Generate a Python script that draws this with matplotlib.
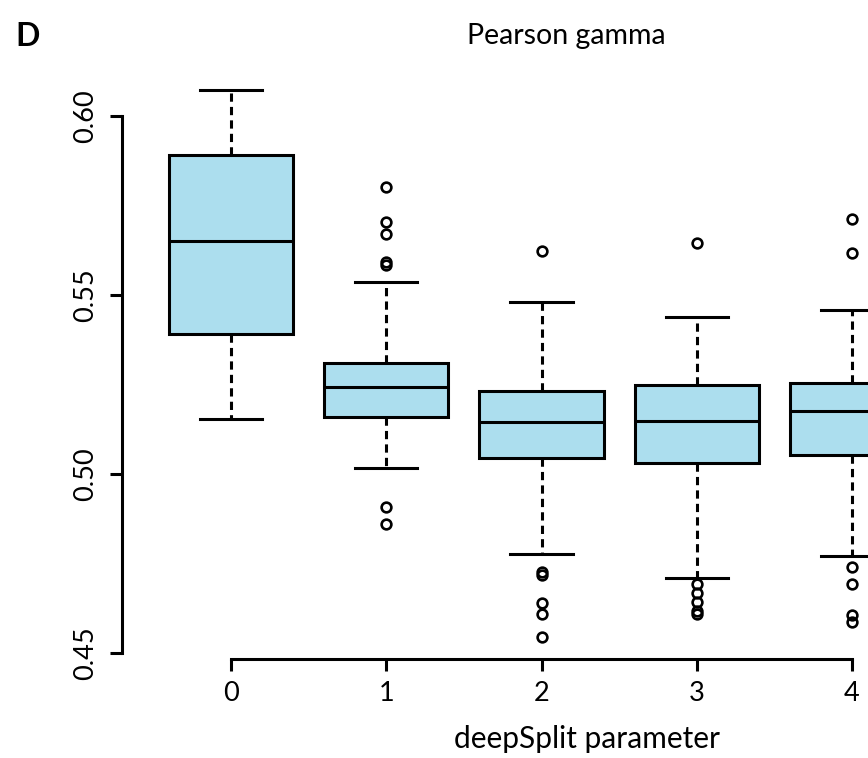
import matplotlib
matplotlib.use("Agg")
import matplotlib.pyplot as plt

# values (Pearson gamma per deepSplit)
deep_split = [0, 1, 2, 3, 4]
q1 = [0.5391, 0.5159, 0.5045, 0.5031, 0.5053]
medians = [0.5651, 0.5243, 0.5145, 0.5148, 0.5176]
q3 = [0.5891, 0.5310, 0.5232, 0.5249, 0.5254]
whisk_lo = [0.5155, 0.5017, 0.4777, 0.4709, 0.4771]
whisk_hi = [0.6073, 0.5536, 0.5480, 0.5439, 0.5458]
outliers = [
    [],
    [0.5802, 0.5704, 0.5670, 0.5592, 0.5584, 0.4908, 0.4860],
    [0.5623, 0.4726, 0.4718, 0.4640, 0.4609, 0.4545],
    [0.5645, 0.4693, 0.4668, 0.4642, 0.4617, 0.4609],
    [0.5712, 0.5617, 0.4740, 0.4693, 0.4606, 0.4587],
]
y_ticks = [0.45, 0.50, 0.55, 0.60]

FONT = "Lato"
BOX_COLOR = "#acdeee"
LW = 2.2

plt.rcParams["font.family"] = [FONT, "DejaVu Sans"]

W, H = 868, 758
fig = plt.figure(figsize=(W / 100, H / 100), dpi=100)

# plot region in pixels: left 122, right edge of figure, top 68, bottom 659
ax = fig.add_axes([122 / W, (H - 659) / H, (W - 122) / W, (659 - 68) / H])

stats = []
for i in range(len(deep_split)):
    stats.append({
        "q1": q1[i], "med": medians[i], "q3": q3[i],
        "whislo": whisk_lo[i], "whishi": whisk_hi[i],
        "fliers": outliers[i],
    })

ax.bxp(stats, positions=deep_split, widths=0.8, capwidths=0.4,
       patch_artist=True, showfliers=True,
       boxprops=dict(facecolor=BOX_COLOR, edgecolor="black", linewidth=LW),
       medianprops=dict(color="black", linewidth=LW),
       whiskerprops=dict(color="black", linewidth=LW, linestyle=(0, (2.7, 1.7))),
       capprops=dict(color="black", linewidth=LW),
       flierprops=dict(marker="o", markerfacecolor="none", markeredgecolor="black",
                       markersize=7, markeredgewidth=1.9))

ax.set_xlim((122 - 231) / 155.25, (W - 231) / 155.25)
ax.set_ylim(0.4484, 0.6134)

for side in ["top", "right"]:
    ax.spines[side].set_visible(False)
ax.spines["left"].set_bounds(0.45, 0.60)
ax.spines["bottom"].set_bounds(0, 4)
ax.spines["left"].set_linewidth(LW)
ax.spines["bottom"].set_linewidth(LW)

ax.set_xticks(deep_split)
ax.set_xticklabels([str(d) for d in deep_split])
ax.set_yticks(y_ticks)
ax.set_yticklabels(["%.2f" % t for t in y_ticks], rotation=90, va="center")
ax.tick_params(axis="both", direction="out", length=8.6, width=LW, labelsize=19.5)
ax.tick_params(axis="y", pad=8.5)
ax.tick_params(axis="x", pad=7.5)

ax.set_xlabel("deepSplit parameter", fontsize=21.5)
ax.xaxis.set_label_coords((587 - 122) / (W - 122), -0.112)

fig.text(566 / W, 1 - 36 / H, "Pearson gamma", fontsize=20.5, ha="center", va="center")
fig.text(28 / W, 1 - 36 / H, "D", fontsize=23, fontweight="bold", ha="center", va="center")

fig.savefig("out.png", dpi=100)
